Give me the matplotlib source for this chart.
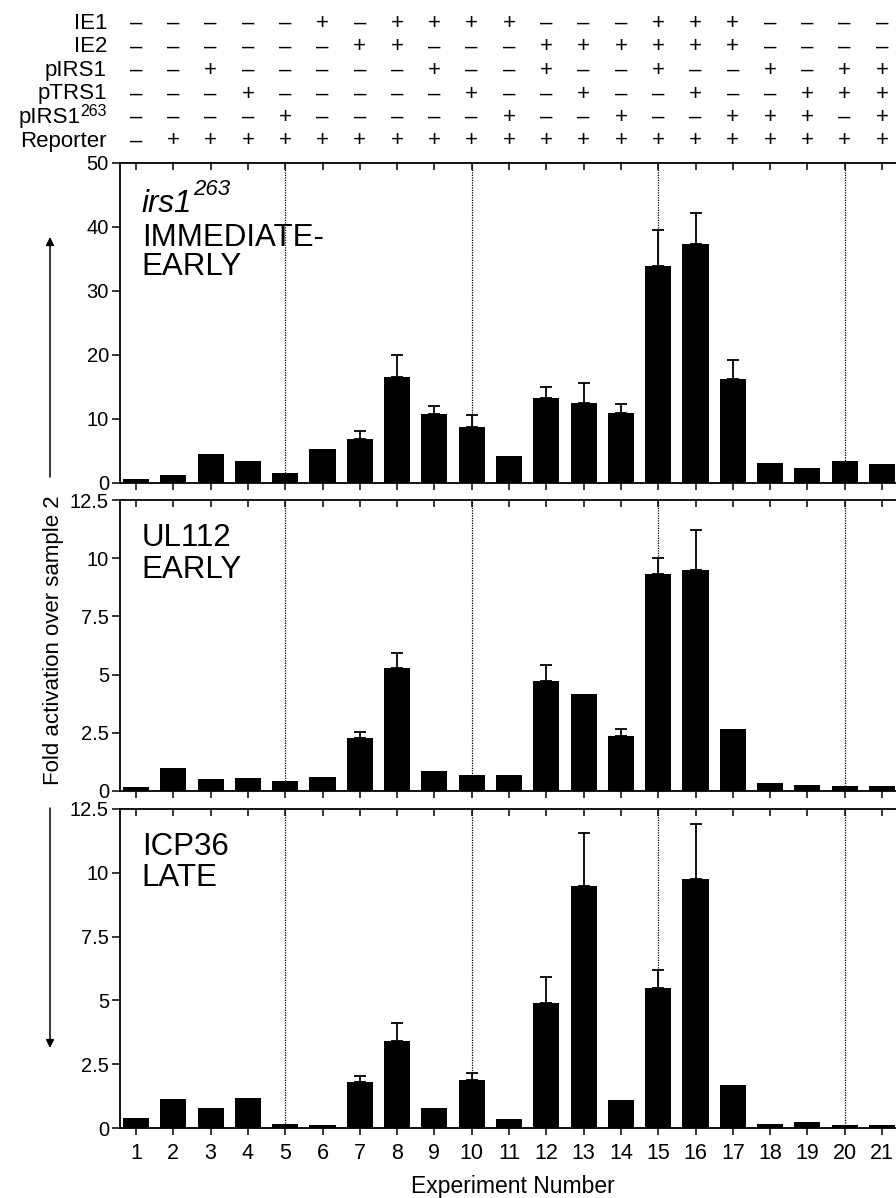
import matplotlib
matplotlib.use("Agg")
import matplotlib.pyplot as plt
from matplotlib.patches import FancyArrowPatch
import numpy as np
from matplotlib.transforms import blended_transform_factory

plt.rcParams['font.family'] = ['Liberation Sans', 'DejaVu Sans']

# experiment numbers and the +/- table above the plot
experiments = list(range(1, 22))
row_names = ['IE1', 'IE2', 'pIRS1', 'pTRS1', 'pIRS1', 'Reporter']
row_sups = ['', '', '', '', '263', '']
ie1_signs = "-----+-++++---+++----"
ie2_signs = "------++---++++++----"
pirs1_signs = "--+-----+--+--+--+-++"
ptrs1_signs = "---+-----+--+--+--+++"
pirs1263_signs = "----+-----+--+--+++-+"
reporter_signs = "-++++++++++++++++++++"
sign_rows = [ie1_signs, ie2_signs, pirs1_signs, ptrs1_signs, pirs1263_signs, reporter_signs]

# fold activation values (mean, upper error)
irs_vals = [0.6, 1.3, 4.5, 3.4, 1.5, 5.3, 6.9, 16.6, 10.8, 8.8, 4.2, 13.3, 12.5, 11.0, 33.9, 37.3, 16.2, 3.1, 2.4, 3.5, 2.9]
irs_err = [0, 0, 0, 0, 0, 0, 1.3, 3.4, 1.2, 1.8, 0, 1.7, 3.1, 1.3, 5.6, 4.9, 3.0, 0, 0, 0, 0]

ul_vals = [0.17, 1.0, 0.5, 0.55, 0.42, 0.6, 2.27, 5.3, 0.86, 0.7, 0.7, 4.74, 4.18, 2.38, 9.3, 9.5, 2.65, 0.35, 0.27, 0.2, 0.2]
ul_err = [0, 0, 0, 0, 0, 0, 0.27, 0.63, 0, 0, 0, 0.68, 0, 0.27, 0.7, 1.7, 0, 0, 0, 0, 0]

icp_vals = [0.4, 1.13, 0.8, 1.17, 0.16, 0.1, 1.8, 3.42, 0.8, 1.9, 0.36, 4.9, 9.5, 1.1, 5.5, 9.77, 1.7, 0.17, 0.23, 0.1, 0.13]
icp_err = [0, 0, 0, 0, 0, 0, 0.25, 0.68, 0, 0.25, 0, 1.0, 2.05, 0, 0.7, 2.13, 0, 0, 0, 0, 0]

divider_x = [5, 10, 15, 20]

W, H = 896, 1198
fig = plt.figure(figsize=(W / 100, H / 100), dpi=100)

def px_axes(top, bottom, left=120, right=896):
    return fig.add_axes([left / W, 1 - bottom / H, (right - left) / W, (bottom - top) / H])

panels = [
    dict(top=163, bottom=483, vals=irs_vals, err=irs_err, ymax=50,
         ticks=[0, 10, 20, 30, 40, 50], labels=['0', '10', '20', '30', '40', '50'],
         title=[('IMMEDIATE-', 0.766), ('EARLY', 0.675)]),
    dict(top=500, bottom=791, vals=ul_vals, err=ul_err, ymax=12.5,
         ticks=[0, 2.5, 5, 7.5, 10, 12.5], labels=['0', '2.5', '5', '7.5', '10', '12.5'],
         title=[('UL112', 0.869), ('EARLY', 0.759)]),
    dict(top=809, bottom=1128, vals=icp_vals, err=icp_err, ymax=12.5,
         ticks=[0, 2.5, 5, 7.5, 10, 12.5], labels=['0', '2.5', '5', '7.5', '10', '12.5'],
         title=[('ICP36', 0.881), ('LATE', 0.784)]),
]

axes = []
for i, p in enumerate(panels):
    ax = px_axes(p['top'], p['bottom'])
    x = np.array(experiments)
    v = np.array(p['vals'])
    e = np.array(p['err'])
    ax.bar(x, v, width=0.70, color='black', zorder=3)
    m = e > 0
    ax.errorbar(x[m], v[m], yerr=[np.zeros(m.sum()), e[m]], fmt='none',
                ecolor='black', elinewidth=1.3, capsize=4.5, capthick=1.3, zorder=2)
    for d in divider_x:
        ax.axvline(d, color='black', linestyle=(0, (1, 1)), linewidth=0.9, zorder=1)
    ax.set_xlim(0.57, 21.375)
    ax.set_ylim(0, p['ymax'])
    ax.set_yticks(p['ticks'])
    ax.set_yticklabels(p['labels'])
    ax.set_xticks(experiments)
    ax.spines['right'].set_visible(False)
    for s in ['left', 'top', 'bottom']:
        ax.spines[s].set_linewidth(1.3)
    ax.tick_params(axis='y', direction='out', length=6, width=1.1, pad=2, labelsize=14.5)
    ax.tick_params(axis='x', bottom=True, top=True, direction='out',
                   length=5, width=1.1, labelsize=15.5, pad=6)
    # top ticks point inward, bottom ticks outward
    for t in ax.xaxis.get_major_ticks():
        t.tick2line.set_marker(3)
    if i < 2:
        ax.set_xticklabels([])
    for text, yy in p['title']:
        ax.text(0.028, yy, text, transform=ax.transAxes, fontsize=22.5,
                ha='left', va='center')
    axes.append(ax)

# italic gene name with superscript on the first panel
t_irs = axes[0].text(0.028, 0.872, 'irs1', transform=axes[0].transAxes, fontsize=22.5,
                     fontstyle='italic', ha='left', va='center')
axes[0].annotate('263', xy=(1.02, 0.62), xycoords=t_irs, fontsize=16,
                 fontstyle='italic', ha='left', va='bottom')

# table of constructs above the top panel
trans = blended_transform_factory(axes[0].transData, fig.transFigure)
row_y = [23.5, 47, 70.5, 94, 117.5, 141]
for name, sup, signs, yp in zip(row_names, row_sups, sign_rows, row_y):
    if sup:
        t_sup = fig.text(107 / W, 1 - (yp + 2) / H, sup, ha='right', va='bottom', fontsize=11.5)
        axes[0].annotate(name, xy=(0, 1 - yp / H), xycoords=(t_sup, fig.transFigure),
                         ha='right', va='center', fontsize=16)
    else:
        fig.text(107 / W, 1 - yp / H, name, ha='right', va='center', fontsize=16)
    for xi, s in zip(experiments, signs):
        axes[0].text(xi, 1 - yp / H, '+' if s == '+' else '\u2013', transform=trans,
                     ha='center', va='center', fontsize=16, clip_on=False)

fig.text(513 / W, 1 - 1187 / H, 'Experiment Number', ha='center', va='center', fontsize=16.5)
fig.text(53 / W, 1 - 640 / H, 'Fold activation over sample 2', rotation=90,
         ha='center', va='center', fontsize=16)

arrow = dict(arrowstyle='-|>', lw=1.1, color='black', mutation_scale=12, shrinkA=0, shrinkB=0)
fig.add_artist(FancyArrowPatch((50 / W, 1 - 477 / H), (50 / W, 1 - 237 / H),
                               transform=fig.transFigure, **arrow))
fig.add_artist(FancyArrowPatch((50 / W, 1 - 808 / H), (50 / W, 1 - 1048 / H),
                               transform=fig.transFigure, **arrow))

fig.savefig('out.png', dpi=100)
